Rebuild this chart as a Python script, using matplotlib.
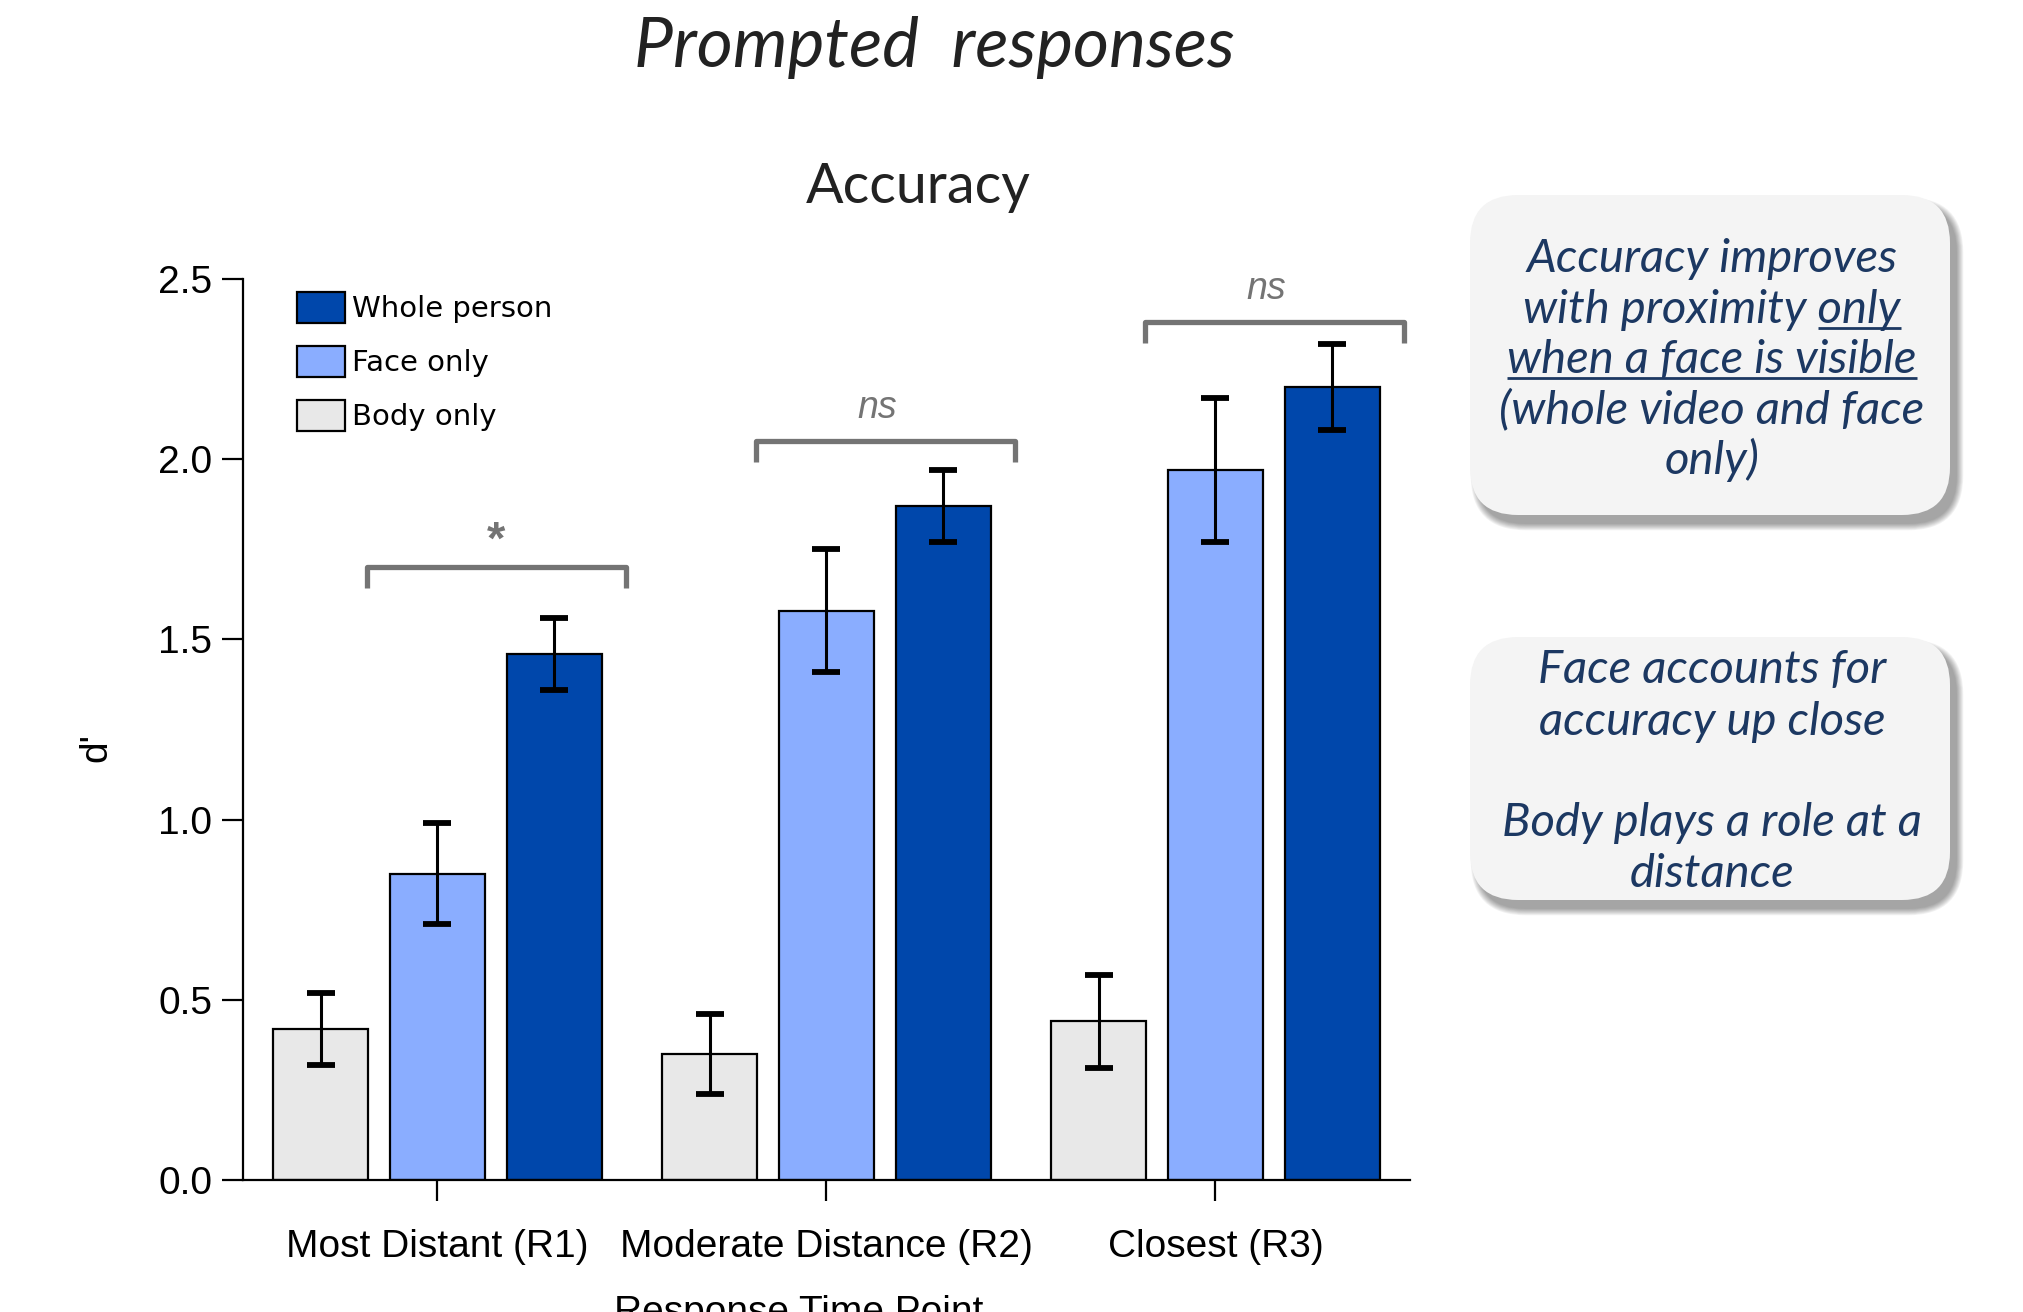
import matplotlib
matplotlib.use("Agg")
import matplotlib.pyplot as plt
from matplotlib.patches import FancyBboxPatch
import numpy as np

# ---- data -------------------------------------------------------------
conditions = ["Most Distant (R1)", "Moderate Distance (R2)", "Closest (R3)"]
series_names = ["Whole person", "Face only", "Body only"]

whole_person = [1.46, 1.87, 2.20]
whole_person_err = [0.10, 0.10, 0.12]
face_only = [0.85, 1.58, 1.97]
face_only_err = [0.14, 0.17, 0.20]
body_only = [0.42, 0.35, 0.44]
body_only_err = [0.10, 0.11, 0.13]

y_ticks = [0.0, 0.5, 1.0, 1.5, 2.0, 2.5]
sig_labels = ["*", "ns", "ns"]
bracket_heights = [1.70, 2.05, 2.38]

note_top = ["Accuracy improves", "with proximity only", "when a face is visible",
            "(whole video and face", "only)"]
note_bottom = ["Face accounts for", "accuracy up close", "",
               "Body plays a role at a", "distance"]

# ---- style ------------------------------------------------------------
C_WHOLE = "#0047ab"
C_FACE = "#8aadff"
C_BODY = "#e8e8e8"
C_SIG = "#747474"
C_NOTE = "#1c3862"
C_TITLE = "#222222"

W, H = 2024, 1312
fig = plt.figure(figsize=(W / 100, H / 100), dpi=100)
fig.patch.set_facecolor("white")

ax_l, ax_r, ax_t, ax_b = 243, 1410, 279, 1180
ax = fig.add_axes([ax_l / W, 1 - ax_b / H, (ax_r - ax_l) / W, (ax_b - ax_t) / H])

x = np.arange(len(conditions))
bw = 0.245
offsets = {"Body only": -0.3, "Face only": 0.0, "Whole person": 0.3}
series = {
    "Whole person": (whole_person, whole_person_err, C_WHOLE),
    "Face only": (face_only, face_only_err, C_FACE),
    "Body only": (body_only, body_only_err, C_BODY),
}

handles = {}
for name in ["Body only", "Face only", "Whole person"]:
    vals, errs, col = series[name]
    xs = x + offsets[name]
    handles[name] = ax.bar(xs, vals, width=bw, color=col, edgecolor="black",
                           linewidth=1.6, zorder=2, label=name)
    ax.errorbar(xs, vals, yerr=errs, fmt="none", ecolor="black",
                elinewidth=2.2, capsize=10, capthick=4.2, zorder=3)

# significance brackets
for xi, lab, hy in zip(x, sig_labels, bracket_heights):
    x0, x1 = xi - 0.182, xi + 0.484
    ax.plot([x0, x0, x1, x1], [hy - 0.058, hy, hy, hy - 0.058], color=C_SIG,
            lw=3.8, solid_joinstyle="round", solid_capstyle="butt",
            clip_on=False, zorder=4)
    xm = (x0 + x1) / 2
    if lab == "*":
        ax.text(xm, hy + 0.07, lab, ha="center", va="center", color=C_SIG,
                fontsize=34, family="Liberation Sans", fontweight="bold")
    else:
        ax.text(xm - 0.02, hy + 0.065, lab, ha="center", va="baseline", color=C_SIG,
                fontsize=27, family="Liberation Sans", style="italic")

ax.set_xlim(-0.5, 2.5)
ax.set_ylim(0, 2.5)
ax.set_yticks(y_ticks)
ax.set_yticklabels([f"{v:.1f}" for v in y_ticks])
ax.set_xticks(x)
ax.set_xticklabels(conditions)
for s in ["top", "right"]:
    ax.spines[s].set_visible(False)
for s in ["left", "bottom"]:
    ax.spines[s].set_linewidth(1.6)
ax.tick_params(axis="y", direction="out", length=15, width=1.6, pad=7,
               labelsize=28)
ax.tick_params(axis="x", direction="out", length=15, width=1.6, pad=20,
               labelsize=28)
for lbl in ax.get_xticklabels() + ax.get_yticklabels():
    lbl.set_family("Liberation Sans")

ax.set_ylabel("d'", fontsize=28, family="Liberation Sans")
ax.yaxis.set_label_coords(-0.110, 0.48)

leg = ax.legend([handles[n] for n in series_names], series_names,
                loc="upper left", bbox_to_anchor=(297 / W, 1 - 292 / H),
                bbox_transform=fig.transFigure, frameon=False,
                prop={"family": "DejaVu Sans", "size": 21},
                handlelength=1.65, handleheight=1.25, handletextpad=0.25,
                labelspacing=0.78, borderpad=0, borderaxespad=0)

fig.text(799 / W, 1 - 1295 / H, "Response Time Point", ha="center", va="top",
         fontsize=28, family="Liberation Sans")

# ---- titles and note boxes (pixel coordinates overlay) ------------------
ov = fig.add_axes([0, 0, 1, 1])
ov.set_xlim(0, W)
ov.set_ylim(H, 0)
ov.axis("off")

ov.text(934, 67, "Prompted  responses", ha="center", va="baseline",
        fontsize=50, family="Lato", style="italic", color=C_TITLE)
ov.text(918, 203, "Accuracy", ha="center", va="baseline",
        fontsize=40, family="Lato", color=C_TITLE)


def note_box(x0, y0, x1, y1):
    r = 48
    for i in range(8):
        sh = FancyBboxPatch((x0 + 7 - i * 0.9, y0 + 9 - i * 0.9),
                            (x1 - x0) + i * 1.8, (y1 - y0) + i * 1.8,
                            boxstyle=f"round,pad=0,rounding_size={r + i}",
                            facecolor="#000000", edgecolor="none",
                            alpha=0.05, zorder=1)
        ov.add_patch(sh)
    box = FancyBboxPatch((x0, y0), x1 - x0, y1 - y0,
                         boxstyle=f"round,pad=0,rounding_size={r}",
                         facecolor="#f4f4f4", edgecolor="none", zorder=2)
    ov.add_patch(box)


note_box(1470, 195, 1950, 515)
note_box(1470, 637, 1950, 900)

note_kw = dict(ha="center", va="baseline", fontsize=34, family="Lato",
               style="italic", color=C_NOTE, zorder=3)
cx = 1712
top_lines = []
for line, yb in zip(note_top, [272, 323, 373, 423, 474]):
    top_lines.append(ov.text(cx, yb, line, **note_kw))
for line, yb in zip(note_bottom, [683, 735, 785, 836, 887]):
    if line:
        ov.text(cx, yb, line, **note_kw)

# underline "only" and "when a face is visible"
fig.canvas.draw()
rend = fig.canvas.get_renderer()
inv = ov.transData.inverted()


def underline(x_left_disp, x_right_disp, yb):
    xl = inv.transform((x_left_disp, 0))[0]
    xr = inv.transform((x_right_disp, 0))[0]
    ov.plot([xl, xr], [yb + 5, yb + 5], color=C_NOTE, lw=2.0, zorder=3,
            solid_capstyle="butt")


bb2 = top_lines[1].get_window_extent(rend)
probe = ov.text(0, 0, "only", **note_kw)
w_only = probe.get_window_extent(rend).width
probe.remove()
underline(bb2.x1 - w_only, bb2.x1, 323)
bb3 = top_lines[2].get_window_extent(rend)
underline(bb3.x0, bb3.x1, 373)

fig.savefig("out.png", dpi=100)
